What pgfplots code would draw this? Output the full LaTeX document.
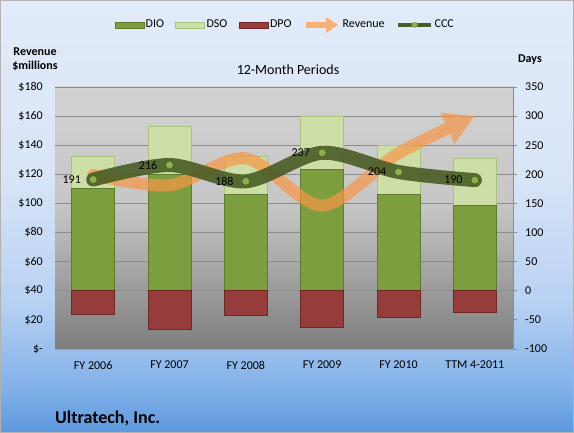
\documentclass[border=0pt]{standalone}
\usepackage{pgfplots}
\pgfplotsset{compat=1.18}
\usepackage{pgfplotstable}
\usepackage{fontspec}
\setmainfont{Carlito}
\usetikzlibrary{arrows.meta}

\definecolor{dio}{HTML}{7C9E3E}
\definecolor{diodark}{HTML}{5E7B2C}
\definecolor{dso}{HTML}{CDDFA6}
\definecolor{dsodark}{HTML}{A9C37C}
\definecolor{dpo}{HTML}{963C3A}
\definecolor{dpodark}{HTML}{6E2826}
\definecolor{revc}{HTML}{F79646}
\definecolor{cccc}{HTML}{4A5D25}
\definecolor{markc}{HTML}{8DAE4C}
\definecolor{gridc}{HTML}{8C8C8C}
\definecolor{bgA}{HTML}{5C98DE}
\definecolor{bgB}{HTML}{80B0E8}
\definecolor{bgC}{HTML}{B8D1F3}
\definecolor{bgD}{HTML}{D8E5F7}
\definecolor{bgE}{HTML}{E2EBF9}
\definecolor{pA}{HTML}{7E7E7E}
\definecolor{pB}{HTML}{A5A5A5}
\definecolor{pC}{HTML}{C6C6C6}
\definecolor{pD}{HTML}{D2D2D2}

\pgfdeclareverticalshading{chartbg}{100bp}{color(0bp)=(bgA); color(25bp)=(bgA); color(30bp)=(bgB); color(40bp)=(bgC); color(55bp)=(bgD); color(75bp)=(bgE); color(100bp)=(bgE)}
\pgfdeclareverticalshading{plotbg}{100bp}{color(0bp)=(pA); color(25bp)=(pA); color(40bp)=(pB); color(52.5bp)=(pC); color(75bp)=(pD); color(100bp)=(pD)}

\pgfplotstableread{
x DIO DSO DPO CCC Rev
0 175 56 -40 191 119.5
1 200 82 -66 216 112.5
2 165 66 -43 188 131
3 209 91 -63 237 98.5
4 166 83 -45 204 134.5
5 147 80 -37 190 160
}\data

\begin{document}
\begin{tikzpicture}[x=1bp,y=1bp]
\fontsize{12bp}{14bp}\selectfont
\path[shading=chartbg] (0,0) rectangle (574,433);
\draw[color=gray!60, line width=0.8bp] (0.4,0.4) rectangle (573.6,432.6);

\pgfplotsset{
  base/.style={
    at={(55bp,84bp)}, anchor=south west, scale only axis,
    width=458bp, height=262bp,
    xmin=-0.5, xmax=5.5,
    /pgf/number format/assume math mode=true,
    tick label style={font=\fontsize{12bp}{14bp}\selectfont},
  }
}

% Days axis with bars
\begin{axis}[base,
  ymin=-100, ymax=350,
  ytick={-100,-50,...,350},
  axis y line*=right,
  axis x line*=bottom,
  y axis line style={draw=gridc, line width=0.8bp},
  x axis line style={draw=gridc!80, line width=0.8bp},
  ytick style={draw=gridc, line width=0.8bp},
  tick align=outside,
  major tick length=4bp,
  ymajorgrids,
  grid style={draw=gridc, line width=0.8bp},
  axis background/.style={shading=plotbg},
  xtick={0,...,5},
  xticklabels={FY 2006,FY 2007,FY 2008,FY 2009,FY 2010,TTM 4-2011},
  xtick style={draw=none},
  minor xtick={0.5,1.5,...,4.5},
  minor tick style={draw=gridc!70, line width=0.6bp},
  minor tick length=3bp,
  xticklabel style={yshift=-4bp},
  yticklabel style={xshift=4bp},
  ybar, bar shift=0pt, bar width=43bp,
]
\addplot[fill=dso, draw=dsodark, line width=0.8bp] table[x=x, y expr=\thisrow{DIO}+\thisrow{DSO}] {\data};
\addplot[fill=dio, draw=diodark, line width=0.8bp] table[x=x, y=DIO] {\data};
\addplot[fill=dpo, draw=dpodark, line width=0.8bp] table[x=x, y=DPO] {\data};
\end{axis}

% Revenue axis: tick labels
\begin{axis}[base,
  ymin=0, ymax=180,
  ytick={0,20,...,180},
  yticklabels={\$-,\$20,\$40,\$60,\$80,\$100,\$120,\$140,\$160,\$180},
  axis y line*=left,
  y axis line style={draw=none},
  ytick style={draw=none},
  yticklabel style={xshift=-8bp},
  hide x axis,
]
\end{axis}

% Revenue line, in a transparency group
\begin{scope}[transparency group, opacity=0.7]
\begin{axis}[base, ymin=0, ymax=180, axis lines=none]
\addplot[smooth, color=revc, line width=12bp, line cap=round,
  -{Triangle[width=32bp,length=30bp]}] table[x=x, y=Rev] {\data};
\end{axis}
\end{scope}

% CCC axis (hidden)
\begin{axis}[base,
  ymin=-100, ymax=350,
  axis lines=none,
  legend style={at={(0.502,1.237)}, anchor=center, draw=none, fill=none,
    legend columns=-1,
    font=\fontsize{12bp}{14bp}\selectfont,
    nodes={inner sep=1.5bp},
    /tikz/every even column/.append style={column sep=10bp}},
]
\addplot[smooth, color=cccc, line width=14bp, draw opacity=0.9, line cap=round,
  mark=*, mark size=4bp,
  mark options={fill=markc, draw=cccc, line width=0.6bp, draw opacity=1, fill opacity=1},
  nodes near coords,
  nodes near coords style={font=\fontsize{12bp}{14bp}\selectfont, text=black, text opacity=1,
    anchor=east, xshift=-11bp, inner sep=1bp},
  point meta=explicit symbolic,
  forget plot,
] table[x=x, y=CCC, meta=CCC] {\data};
\addlegendimage{legend image code/.code={\draw[fill=dio, draw=diodark, line width=0.6bp] (0bp,-3bp) rectangle (29bp,3bp);}}
\addlegendentry{DIO}
\addlegendimage{legend image code/.code={\draw[fill=dso, draw=dsodark, line width=0.6bp] (0bp,-3bp) rectangle (29bp,3bp);}}
\addlegendentry{DSO}
\addlegendimage{legend image code/.code={\draw[fill=dpo, draw=dpodark, line width=0.6bp] (0bp,-3bp) rectangle (29bp,3bp);}}
\addlegendentry{DPO}
\addlegendimage{legend image code/.code={\draw[color=revc!75!white, line width=6bp, -{Triangle[width=15bp,length=12bp]}] (0bp,0bp) -- (32bp,0bp);}}
\addlegendentry{Revenue}
\addlegendimage{legend image code/.code={\draw[color=cccc, line width=4bp] (0bp,0bp) -- (33bp,0bp); \fill[markc] (16.5bp,0bp) circle (2.8bp);}}
\addlegendentry{CCC}
\end{axis}

\node[font=\fontsize{14bp}{16bp}\selectfont] at (288,363) {12-Month Periods};
\node[font=\bfseries\fontsize{12bp}{14bp}\selectfont, align=center, inner sep=0pt] at (35,374) {Revenue\\\$millions};
\node[font=\bfseries\fontsize{12bp}{14bp}\selectfont] at (530,373) {Days};
\node[font=\bfseries\fontsize{18bp}{20bp}\selectfont, anchor=west, inner sep=0pt] at (55,15) {Ultratech, Inc.};

\pgfresetboundingbox
\path (0,0) rectangle (574,433);
\end{tikzpicture}
\end{document}
